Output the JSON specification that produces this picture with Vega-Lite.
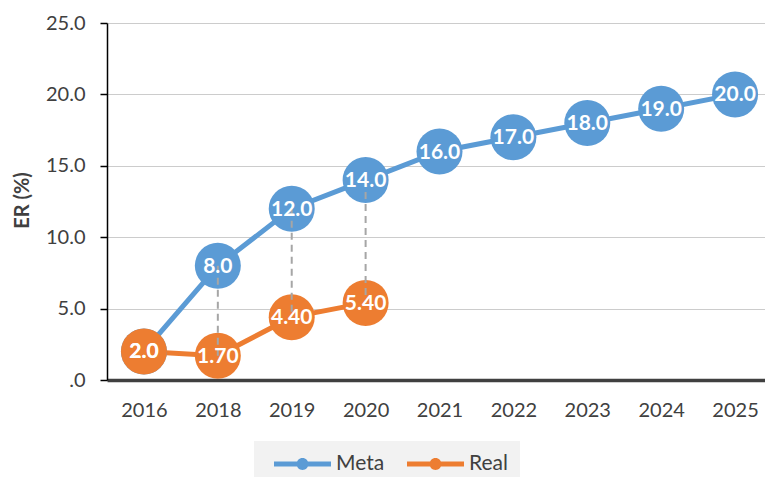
{
  "$schema": "https://vega.github.io/schema/vega-lite/v6.json",
  "width": 665,
  "height": 357,
  "autosize": {"type": "none"},
  "padding": {"left": 107, "top": 23, "right": 0, "bottom": 97},
  "background": "white",
  "config": {"font": "Lato", "view": {"stroke": null}, "axis": {"labelFont": "Lato", "titleFont": "Lato"}},
  "datasets": {
    "series": [
      {"year": "2016", "series": "Meta", "value": 2.0, "label": "2.0"},
      {"year": "2018", "series": "Meta", "value": 8.0, "label": "8.0"},
      {"year": "2019", "series": "Meta", "value": 12.0, "label": "12.0"},
      {"year": "2020", "series": "Meta", "value": 14.0, "label": "14.0"},
      {"year": "2021", "series": "Meta", "value": 16.0, "label": "16.0"},
      {"year": "2022", "series": "Meta", "value": 17.0, "label": "17.0"},
      {"year": "2023", "series": "Meta", "value": 18.0, "label": "18.0"},
      {"year": "2024", "series": "Meta", "value": 19.0, "label": "19.0"},
      {"year": "2025", "series": "Meta", "value": 20.0, "label": "20.0"},
      {"year": "2016", "series": "Real", "value": 2.0, "label": "2.0"},
      {"year": "2018", "series": "Real", "value": 1.7, "label": "1.70"},
      {"year": "2019", "series": "Real", "value": 4.4, "label": "4.40"},
      {"year": "2020", "series": "Real", "value": 5.4, "label": "5.40"}
    ],
    "drops": [
      {"year": "2018", "meta": 8.0, "real": 1.7},
      {"year": "2019", "meta": 12.0, "real": 4.4},
      {"year": "2020", "meta": 14.0, "real": 5.4}
    ]
  },
  "layer": [
    {
      "data": {"name": "series"},
      "mark": {"type": "line", "strokeWidth": 5},
      "encoding": {
        "x": {"field": "year", "type": "nominal", "scale": {"type": "point", "padding": 0.5},
          "axis": {"title": null, "labelAngle": 0, "ticks": false, "labelFontSize": 20, "labelColor": "#404040", "labelPadding": 20, "domainColor": "#404040", "domainWidth": 3.5, "grid": false}},
        "y": {"field": "value", "type": "quantitative", "scale": {"domain": [0, 25], "nice": false, "padding": 0, "zero": true},
          "axis": {"title": "ER (%)", "values": [0, 5, 10, 15, 20, 25], "labelExpr": "datum.value == 0 ? '.0' : format(datum.value, '.1f')", "labelFontSize": 20, "labelColor": "#404040", "labelPadding": 15, "tickSize": 7, "tickColor": "#000000", "tickWidth": 1.5, "domainColor": "#000000", "domainWidth": 1.5, "gridColor": "#cccccc", "gridWidth": 1, "titleFontSize": 20, "titleFontWeight": "bold", "titleColor": "#404040", "titleX": -85, "titleY": 177, "titleAlign": "center", "titleBaseline": "middle", "titleAngle": -90}},
        "color": {"field": "series", "type": "nominal", "scale": {"domain": ["Meta", "Real"], "range": ["#5b9bd5", "#ed7d31"]},
          "legend": {"orient": "none", "legendX": 147, "legendY": 418, "direction": "horizontal", "title": null, "fillColor": "#f2f2f2", "padding": 12,
            "symbolType": "M-1,-0.09H1V0.09H-1Z M-0.21,0A0.21,0.21 0 1,1 0.21,0A0.21,0.21 0 1,1 -0.21,0Z",
            "symbolSize": 3249, "clipHeight": 22, "labelFontSize": 21, "labelColor": "#404040", "labelFont": "Lato", "labelOffset": 5, "columnPadding": 14, "symbolStrokeWidth": 0, "symbolOffset": 8,
            "encode": {"symbols": {"update": {"fill": {"scale": "color", "field": "value"}, "stroke": {"value": "transparent"}}}}}}
      }
    },
    {
      "data": {"name": "series"},
      "mark": {"type": "point", "filled": true, "size": 2116, "opacity": 1},
      "encoding": {
        "x": {"field": "year", "type": "nominal"},
        "y": {"field": "value", "type": "quantitative"},
        "color": {"field": "series", "type": "nominal", "legend": null}
      }
    },
    {
      "data": {"name": "drops"},
      "mark": {"type": "rule", "color": "#a6a6a6", "strokeWidth": 2, "strokeDash": [7, 5]},
      "encoding": {
        "x": {"field": "year", "type": "nominal"},
        "y": {"field": "meta", "type": "quantitative"},
        "y2": {"field": "real"}
      }
    },
    {
      "data": {"name": "series"},
      "mark": {"type": "text", "font": "Lato", "fontWeight": "bold", "fontSize": 21, "color": "white", "baseline": "middle", "dy": 1},
      "encoding": {
        "x": {"field": "year", "type": "nominal"},
        "y": {"field": "value", "type": "quantitative"},
        "text": {"field": "label"}
      }
    }
  ]
}
